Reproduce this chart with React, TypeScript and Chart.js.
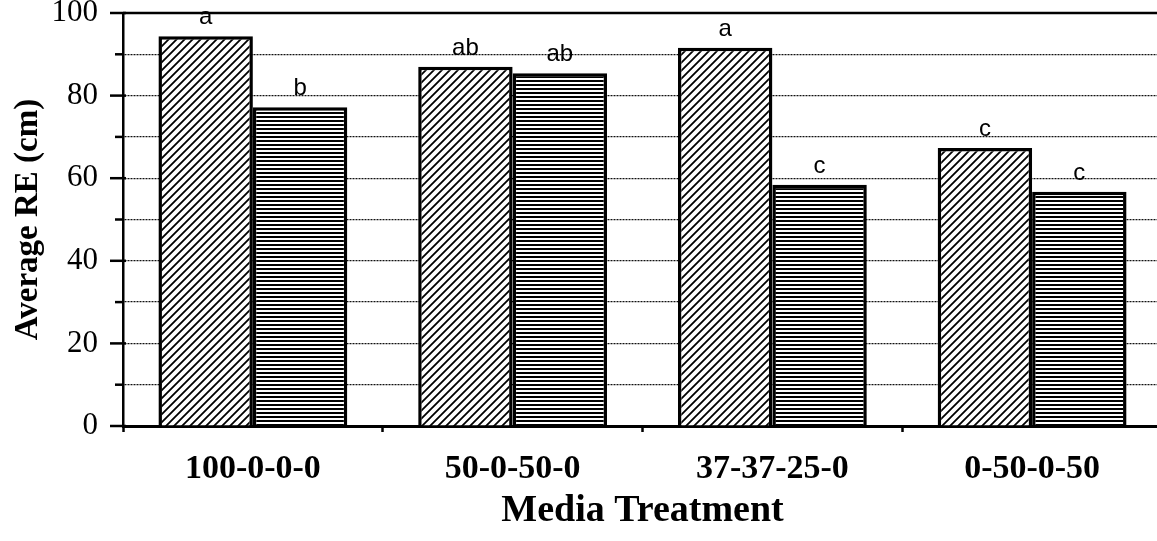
import React, { useEffect, useRef } from "react";
import { Chart, registerables } from "chart.js";

Chart.register(...registerables);

const categories = ["100-0-0-0", "50-0-50-0", "37-37-25-0", "0-50-0-50"];
const hatchedValues = [94.4, 87.0, 91.6, 67.3];
const stripedValues = [77.2, 85.4, 58.4, 56.7];
const hatchedLetters = ["a", "ab", "a", "c"];
const stripedLetters = ["b", "ab", "c", "c"];
const yTicks = [0, 10, 20, 30, 40, 50, 60, 70, 80, 90, 100];

function makeDiagonal(): CanvasPattern | string {
  const c = document.createElement("canvas");
  c.width = 8;
  c.height = 8;
  const g = c.getContext("2d");
  if (!g) return "#888";
  g.fillStyle = "#fff";
  g.fillRect(0, 0, 8, 8);
  g.strokeStyle = "#000";
  g.lineWidth = 1.8;
  g.beginPath();
  g.moveTo(-2, 10);
  g.lineTo(10, -2);
  g.moveTo(-10, 10);
  g.lineTo(2, -2);
  g.moveTo(6, 10);
  g.lineTo(18, -2);
  g.stroke();
  return g.createPattern(c, "repeat") as CanvasPattern;
}

function makeHorizontal(): CanvasPattern | string {
  const c = document.createElement("canvas");
  c.width = 8;
  c.height = 4;
  const g = c.getContext("2d");
  if (!g) return "#666";
  g.fillStyle = "#fff";
  g.fillRect(0, 0, 8, 4);
  g.fillStyle = "#000";
  g.fillRect(0, 0, 8, 2);
  return g.createPattern(c, "repeat") as CanvasPattern;
}

const decorPlugin = {
  id: "decor",
  afterDraw(chart: any) {
    const ctx = chart.ctx;
    const area = chart.chartArea;
    const ys = chart.scales.y;
    ctx.save();
    ctx.strokeStyle = "#000";
    ctx.lineWidth = 2.5;
    ctx.beginPath();
    ctx.moveTo(area.left, ys.getPixelForValue(100));
    ctx.lineTo(area.right, ys.getPixelForValue(100));
    ctx.stroke();
    yTicks.forEach((v) => {
      const y = ys.getPixelForValue(v);
      const major = v % 20 === 0;
      ctx.beginPath();
      ctx.moveTo(area.left - (major ? 13 : 8), y);
      ctx.lineTo(area.left + (major ? 3 : 0), y);
      ctx.stroke();
    });
    ctx.restore();
  },
  afterDatasetsDraw(chart: any) {
    const ctx = chart.ctx;
    ctx.save();
    ctx.fillStyle = "#000";
    ctx.font = '24px "Liberation Sans"';
    ctx.textAlign = "center";
    ctx.textBaseline = "alphabetic";
    const letterSets = [hatchedLetters, stripedLetters];
    letterSets.forEach((letters, di) => {
      const meta = chart.getDatasetMeta(di);
      meta.data.forEach((el: any, i: number) => {
        ctx.fillText(letters[i], el.x, el.y - 12);
      });
    });
    ctx.restore();
  },
};

export default function App() {
  const ref = useRef<HTMLCanvasElement>(null);
  useEffect(() => {
    if (!ref.current) return;
    const chart = new Chart(ref.current, {
      type: "bar",
      data: {
        labels: categories,
        datasets: [
          {
            label: "A",
            data: hatchedValues,
            backgroundColor: makeDiagonal() as any,
            borderColor: "#000",
            borderWidth: 3.5,
            categoryPercentage: 0.727,
            barPercentage: 1,
          },
          {
            label: "B",
            data: stripedValues,
            backgroundColor: makeHorizontal() as any,
            borderColor: "#000",
            borderWidth: 3.5,
            categoryPercentage: 0.727,
            barPercentage: 1,
          },
        ],
      },
      options: {
        animation: false,
        responsive: false,
        maintainAspectRatio: false,
        layout: { padding: { top: 13, right: 3, left: 0, bottom: 0 } },
        plugins: {
          legend: { display: false },
          tooltip: { enabled: false },
          title: { display: false },
        },
        scales: {
          x: {
            afterFit: (s: any) => {
              s.height = 115;
              s.paddingLeft = 0;
              s.paddingRight = 0;
            },
            grid: {
              offset: true,
              drawOnChartArea: false,
              drawTicks: true,
              tickLength: 6,
              tickWidth: 2.5,
              tickColor: "#000",
              color: "#000",
            },
            border: { display: true, color: "#000", width: 3 },
            ticks: {
              color: "#000",
              padding: 17,
              font: { family: '"Liberation Serif"', size: 34, weight: "bold" },
              maxRotation: 0,
              autoSkip: false,
            },
            title: {
              display: true,
              text: "Media Treatment",
              color: "#000",
              font: { family: '"Liberation Serif"', size: 38, weight: "bold" },
              padding: { top: 0, bottom: 7 },
            },
          },
          y: {
            min: 0,
            max: 100,
            afterFit: (s: any) => {
              s.width = 123;
              s.paddingTop = 0;
              s.paddingBottom = 0;
            },
            afterBuildTicks: (s: any) => {
              s.ticks = yTicks.map((v) => ({ value: v }));
            },
            grid: {
              drawTicks: false,
              lineWidth: 1.2,
              color: (c: any) =>
                c.tick && (c.tick.value === 0 || c.tick.value === 100) ? "rgba(0,0,0,0)" : "#111",
            },
            border: { display: true, color: "#000", width: 2.5, dash: [2, 1] },
            ticks: {
              color: "#000",
              padding: 25,
              autoSkip: false,
              font: { family: '"Liberation Serif"', size: 31 },
              callback: (v: any) => (Number(v) % 20 === 0 ? String(v) : ""),
            },
            title: {
              display: true,
              text: "Average RE (cm)",
              color: "#000",
              font: { family: '"Liberation Serif"', size: 33, weight: "bold" },
              padding: { top: 9, bottom: 0 },
            },
          },
        },
      },
      plugins: [decorPlugin],
    });
    return () => chart.destroy();
  }, []);
  return (
    <div
      style={{
        position: "fixed",
        left: 0,
        top: 0,
        width: 1157,
        height: 541,
        overflow: "hidden",
        background: "#fff",
      }}
    >
      <canvas ref={ref} width={1165} height={541} style={{ display: "block" }} />
    </div>
  );
}
